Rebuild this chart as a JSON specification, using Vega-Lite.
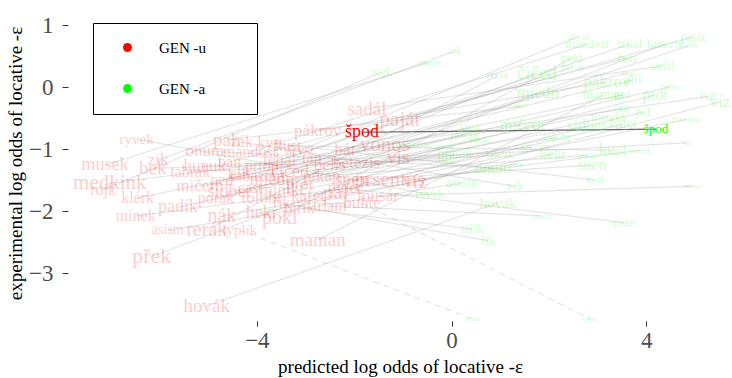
{
  "$schema": "https://vega.github.io/schema/vega-lite/v6.json",
  "width": 664,
  "height": 316,
  "autosize": {"type": "none"},
  "padding": {"left": 68, "top": 5, "right": 0, "bottom": 57},
  "background": "white",
  "config": {"view": {"stroke": null}, "font": "Liberation Serif"},
  "data": {"values": [
    {"word": "ryvek", "xu": -6.47, "yu": -0.84, "xa": -0.45, "ya": -1.73, "nu": 60, "na": 52, "dash": "no"},
    {"word": "pah", "xu": -4.62, "yu": -0.85, "xa": 1.40, "ya": -0.31, "nu": 76, "na": 32, "dash": "no"},
    {"word": "onum", "xu": -5.07, "yu": -1.03, "xa": 0.85, "ya": -1.31, "nu": 68, "na": 64, "dash": "no"},
    {"word": "musek", "xu": -7.12, "yu": -1.26, "xa": -0.45, "ya": 0.40, "nu": 72, "na": 36, "dash": "no"},
    {"word": "bek", "xu": -6.14, "yu": -1.31, "xa": -0.10, "ya": -1.18, "nu": 76, "na": 48, "dash": "no"},
    {"word": "zik", "xu": -6.03, "yu": -1.18, "xa": 0.07, "ya": 0.58, "nu": 68, "na": 44, "dash": "no"},
    {"word": "medkink", "xu": -7.02, "yu": -1.55, "xa": -0.82, "ya": -0.94, "nu": 84, "na": 44, "dash": "no"},
    {"word": "rojk", "xu": -7.16, "yu": -1.66, "xa": -1.43, "ya": 0.24, "nu": 64, "na": 48, "dash": "no"},
    {"word": "klérk", "xu": -6.45, "yu": -1.79, "xa": 0.38, "ya": -0.66, "nu": 64, "na": 40, "dash": "no"},
    {"word": "padík", "xu": -5.62, "yu": -1.94, "xa": 0.58, "ya": -0.85, "nu": 72, "na": 36, "dash": "no"},
    {"word": "minek", "xu": -6.49, "yu": -2.08, "xa": 3.87, "ya": -1.02, "nu": 64, "na": 36, "dash": "no"},
    {"word": "asism", "xu": -5.83, "yu": -2.31, "xa": 0.21, "ya": -1.55, "nu": 56, "na": 56, "dash": "no"},
    {"word": "rerák", "xu": -5.03, "yu": -2.31, "xa": 0.95, "ya": 0.19, "nu": 80, "na": 44, "dash": "no"},
    {"word": "nák", "xu": -4.72, "yu": -2.08, "xa": 1.34, "ya": -1.24, "nu": 80, "na": 36, "dash": "no"},
    {"word": "hekr", "xu": -3.90, "yu": -2.03, "xa": 2.08, "ya": -1.08, "nu": 72, "na": 60, "dash": "no"},
    {"word": "pokl", "xu": -3.53, "yu": -2.11, "xa": 2.47, "ya": 0.47, "nu": 80, "na": 48, "dash": "no"},
    {"word": "maman", "xu": -2.75, "yu": -2.47, "xa": 3.11, "ya": -0.13, "nu": 76, "na": 56, "dash": "no"},
    {"word": "přek", "xu": -6.16, "yu": -2.73, "xa": -0.14, "ya": -0.97, "nu": 88, "na": 44, "dash": "no"},
    {"word": "hovák", "xu": -5.03, "yu": -3.53, "xa": 0.95, "ya": -1.87, "nu": 76, "na": 60, "dash": "no"},
    {"word": "sadál", "xu": -1.74, "yu": -0.35, "xa": 4.32, "ya": 0.34, "nu": 76, "na": 48, "dash": "no"},
    {"word": "paját", "xu": -1.06, "yu": -0.53, "xa": 4.96, "ya": 0.81, "nu": 84, "na": 52, "dash": "no"},
    {"word": "pákrov", "xu": -2.75, "yu": -0.71, "xa": 3.19, "ya": 0.08, "nu": 68, "na": 68, "dash": "no"},
    {"word": "betezis", "xu": -1.95, "yu": -1.23, "xa": 4.38, "ya": 0.69, "nu": 68, "na": 52, "dash": "no"},
    {"word": "prsentus", "xu": -1.27, "yu": -1.50, "xa": 4.83, "ya": -0.52, "nu": 84, "na": 36, "dash": "no"},
    {"word": "pal", "xu": -2.38, "yu": -1.71, "xa": 3.93, "ya": -0.40, "nu": 84, "na": 48, "dash": "no"},
    {"word": "víz", "xu": -0.75, "yu": -1.53, "xa": 5.51, "ya": -0.24, "nu": 80, "na": 68, "dash": "no"},
    {"word": "vis", "xu": -1.10, "yu": -1.15, "xa": 4.83, "ya": -0.90, "nu": 80, "na": 32, "dash": "no"},
    {"word": "vonos", "xu": -1.37, "yu": -0.94, "xa": 4.86, "ya": 0.66, "nu": 84, "na": 32, "dash": "no"},
    {"word": "aryst", "xu": -3.12, "yu": -1.02, "xa": 2.60, "ya": 0.81, "nu": 60, "na": 44, "dash": "no"},
    {"word": "mandost", "xu": -4.14, "yu": -1.05, "xa": 2.78, "ya": 0.69, "nu": 64, "na": 52, "dash": "no"},
    {"word": "tehal", "xu": -3.53, "yu": -1.18, "xa": 3.66, "ya": 0.69, "nu": 68, "na": 52, "dash": "no"},
    {"word": "ban", "xu": -4.56, "yu": -1.21, "xa": 3.60, "ya": 0.47, "nu": 64, "na": 52, "dash": "no"},
    {"word": "prtop", "xu": -3.90, "yu": -1.27, "xa": 2.49, "ya": 0.32, "nu": 64, "na": 44, "dash": "no"},
    {"word": "tan", "xu": -2.87, "yu": -1.15, "xa": 3.60, "ya": 0.23, "nu": 64, "na": 36, "dash": "no"},
    {"word": "čičed", "xu": -3.32, "yu": -1.37, "xa": 1.75, "ya": 0.23, "nu": 72, "na": 76, "dash": "no"},
    {"word": "alíl", "xu": -4.35, "yu": -1.40, "xa": 3.72, "ya": 0.11, "nu": 64, "na": 56, "dash": "no"},
    {"word": "pelis", "xu": -2.50, "yu": -1.26, "xa": 4.48, "ya": 0.00, "nu": 68, "na": 40, "dash": "no"},
    {"word": "miedn", "xu": -3.69, "yu": -1.50, "xa": 1.77, "ya": -0.10, "nu": 72, "na": 68, "dash": "no"},
    {"word": "ped", "xu": -4.72, "yu": -1.50, "xa": 3.50, "ya": -0.13, "nu": 64, "na": 44, "dash": "no"},
    {"word": "prot", "xu": -3.12, "yu": -1.56, "xa": 4.18, "ya": -0.13, "nu": 68, "na": 64, "dash": "no"},
    {"word": "bát", "xu": -2.19, "yu": -1.02, "xa": 5.27, "ya": -0.15, "nu": 68, "na": 52, "dash": "no"},
    {"word": "cast", "xu": -4.14, "yu": -1.63, "xa": 3.50, "ya": -0.34, "nu": 64, "na": 40, "dash": "no"},
    {"word": "minikt", "xu": -3.49, "yu": -1.66, "xa": 3.21, "ya": -0.48, "nu": 68, "na": 52, "dash": "no"},
    {"word": "mičern", "xu": -5.17, "yu": -1.60, "xa": 1.45, "ya": -0.61, "nu": 68, "na": 64, "dash": "no"},
    {"word": "sidber", "xu": -4.56, "yu": -1.69, "xa": 2.78, "ya": -0.63, "nu": 72, "na": 64, "dash": "no"},
    {"word": "kafet", "xu": -2.95, "yu": -1.76, "xa": 3.52, "ya": -0.60, "nu": 68, "na": 56, "dash": "no"},
    {"word": "tolobr", "xu": -3.90, "yu": -1.79, "xa": 2.16, "ya": -0.81, "nu": 68, "na": 48, "dash": "no"},
    {"word": "porak", "xu": -4.84, "yu": -1.79, "xa": 0.27, "ya": -0.77, "nu": 64, "na": 52, "dash": "no"},
    {"word": "kust", "xu": -3.36, "yu": -0.95, "xa": 3.31, "ya": -1.02, "nu": 64, "na": 68, "dash": "no"},
    {"word": "pikap", "xu": -2.67, "yu": -1.44, "xa": 2.80, "ya": -1.10, "nu": 68, "na": 36, "dash": "no"},
    {"word": "tabrak", "xu": -5.37, "yu": -1.37, "xa": 0.99, "ya": -1.10, "nu": 64, "na": 44, "dash": "no"},
    {"word": "snen", "xu": -2.05, "yu": -1.50, "xa": 2.88, "ya": -1.26, "nu": 72, "na": 64, "dash": "no"},
    {"word": "kyrt", "xu": -3.73, "yu": -0.90, "xa": 2.95, "ya": -1.50, "nu": 64, "na": 44, "dash": "no"},
    {"word": "musár", "xu": -1.51, "yu": -1.76, "xa": 4.96, "ya": -1.60, "nu": 68, "na": 28, "dash": "no"},
    {"word": "zák", "xu": -4.31, "yu": -0.89, "xa": 1.30, "ya": -1.60, "nu": 64, "na": 48, "dash": "no"},
    {"word": "triam", "xu": -2.50, "yu": -1.92, "xa": 1.86, "ya": -2.08, "nu": 64, "na": 36, "dash": "no"},
    {"word": "pidér", "xu": -2.19, "yu": -1.63, "xa": 3.56, "ya": -2.19, "nu": 68, "na": 44, "dash": "no"},
    {"word": "téřík", "xu": -3.12, "yu": -1.95, "xa": 0.42, "ya": -2.29, "nu": 68, "na": 48, "dash": "no"},
    {"word": "řík", "xu": -3.49, "yu": -1.87, "xa": 0.75, "ya": -2.48, "nu": 64, "na": 52, "dash": "no"},
    {"word": "kabazém", "xu": -4.02, "yu": -1.44, "xa": 1.65, "ya": -0.97, "nu": 64, "na": 40, "dash": "no"},
    {"word": "hunuk", "xu": -5.07, "yu": -1.27, "xa": 0.07, "ya": -1.08, "nu": 68, "na": 56, "dash": "no"},
    {"word": "lyplík", "xu": -4.35, "yu": -2.31, "xa": 0.42, "ya": -3.74, "nu": 60, "na": 28, "dash": "yes"},
    {"word": "buhte", "xu": -1.84, "yu": -1.87, "xa": 2.84, "ya": -3.74, "nu": 68, "na": 28, "dash": "yes"},
    {"word": "špod", "xu": -1.84, "yu": -0.73, "xa": 4.20, "ya": -0.68, "nu": 72, "na": 52, "dash": "no"}
  ]},
  "layer": [
    {
      "mark": {"type": "rule", "strokeWidth": 1.2},
      "encoding": {
        "x": {"field": "xu", "type": "quantitative", "title": "predicted log odds of locative -ε",
              "scale": {"domain": [-7.88, 5.76], "nice": false, "zero": false},
              "axis": {"values": [-4, 0, 4], "format": "d", "grid": false, "domain": false, "tickColor": "#333333", "tickSize": 5,
                       "labelFont": "Liberation Serif", "labelFontSize": 23, "labelColor": "#4d4d4d", "labelPadding": 3,
                       "titleFont": "Liberation Serif", "titleFontSize": 19, "titleFontWeight": "normal", "titleColor": "black", "titlePadding": 5}},
        "y": {"field": "yu", "type": "quantitative", "title": "experimental log odds of locative -ε",
              "scale": {"domain": [-3.774, 1.323], "nice": false, "zero": false},
              "axis": {"values": [-3, -2, -1, 0, 1], "format": "d", "grid": false, "domain": false, "tickColor": "#333333", "tickSize": 6,
                       "labelFont": "Liberation Serif", "labelFontSize": 23, "labelColor": "#4d4d4d", "labelPadding": 9,
                       "titleFont": "Liberation Serif", "titleFontSize": 19, "titleFontWeight": "normal", "titleColor": "black", "titlePadding": 3}},
        "x2": {"field": "xa"},
        "y2": {"field": "ya"},
        "color": {"condition": {"test": "datum.word === 'špod'", "value": "#555555"}, "value": "#aaaaaa"},
        "opacity": {"condition": {"test": "datum.word === 'špod'", "value": 0.85}, "value": 0.3},
        "strokeDash": {"field": "dash", "type": "nominal", "scale": {"domain": ["no", "yes"], "range": [[1, 0], [6, 5]]}, "legend": null}
      }
    },
    {
      "mark": {"type": "text", "font": "Liberation Serif", "baseline": "middle", "align": "center"},
      "encoding": {
        "x": {"field": "xu", "type": "quantitative", "title": "predicted log odds of locative -ε"},
        "y": {"field": "yu", "type": "quantitative", "title": "experimental log odds of locative -ε"},
        "text": {"field": "word"},
        "size": {"field": "nu", "type": "quantitative", "scale": {"domain": [0, 100], "range": [0, 25]}, "legend": null},
        "color": {"datum": "GEN -u", "type": "nominal",
                  "scale": {"domain": ["GEN -u", "GEN -a"], "range": ["#ff0000", "#00ff00"]},
                  "legend": {"orient": "none", "legendX": 25, "legendY": 18, "title": null, "padding": 17,
                             "strokeColor": "black", "fillColor": "white", "symbolType": "circle", "symbolSize": 80,
                             "symbolOpacity": 1, "symbolStrokeWidth": 0, "labelFont": "Liberation Serif", "labelFontSize": 15,
                             "labelColor": "black", "rowPadding": 25, "labelOffset": 24, "symbolOffset": 10,
                             "labelExpr": "datum.label + '\u2800\u2800\u2800'"}},
        "opacity": {"condition": {"test": "datum.word === 'špod'", "value": 1}, "value": 0.2}
      }
    },
    {
      "mark": {"type": "text", "font": "Liberation Serif", "baseline": "middle", "align": "center"},
      "encoding": {
        "x": {"field": "xa", "type": "quantitative", "title": "predicted log odds of locative -ε"},
        "y": {"field": "ya", "type": "quantitative", "title": "experimental log odds of locative -ε"},
        "text": {"field": "word"},
        "size": {"field": "na", "type": "quantitative", "scale": {"domain": [0, 100], "range": [0, 25]}, "legend": null},
        "color": {"datum": "GEN -a", "type": "nominal",
                  "scale": {"domain": ["GEN -u", "GEN -a"], "range": ["#ff0000", "#00ff00"]},
                  "legend": {"orient": "none", "legendX": 25, "legendY": 18, "title": null, "padding": 17,
                             "strokeColor": "black", "fillColor": "white", "symbolType": "circle", "symbolSize": 80,
                             "symbolOpacity": 1, "symbolStrokeWidth": 0, "labelFont": "Liberation Serif", "labelFontSize": 15,
                             "labelColor": "black", "rowPadding": 25, "labelOffset": 24, "symbolOffset": 10,
                             "labelExpr": "datum.label + '\u2800\u2800\u2800'"}},
        "opacity": {"condition": {"test": "datum.word === 'špod'", "value": 1}, "value": 0.2}
      }
    }
  ]
}
